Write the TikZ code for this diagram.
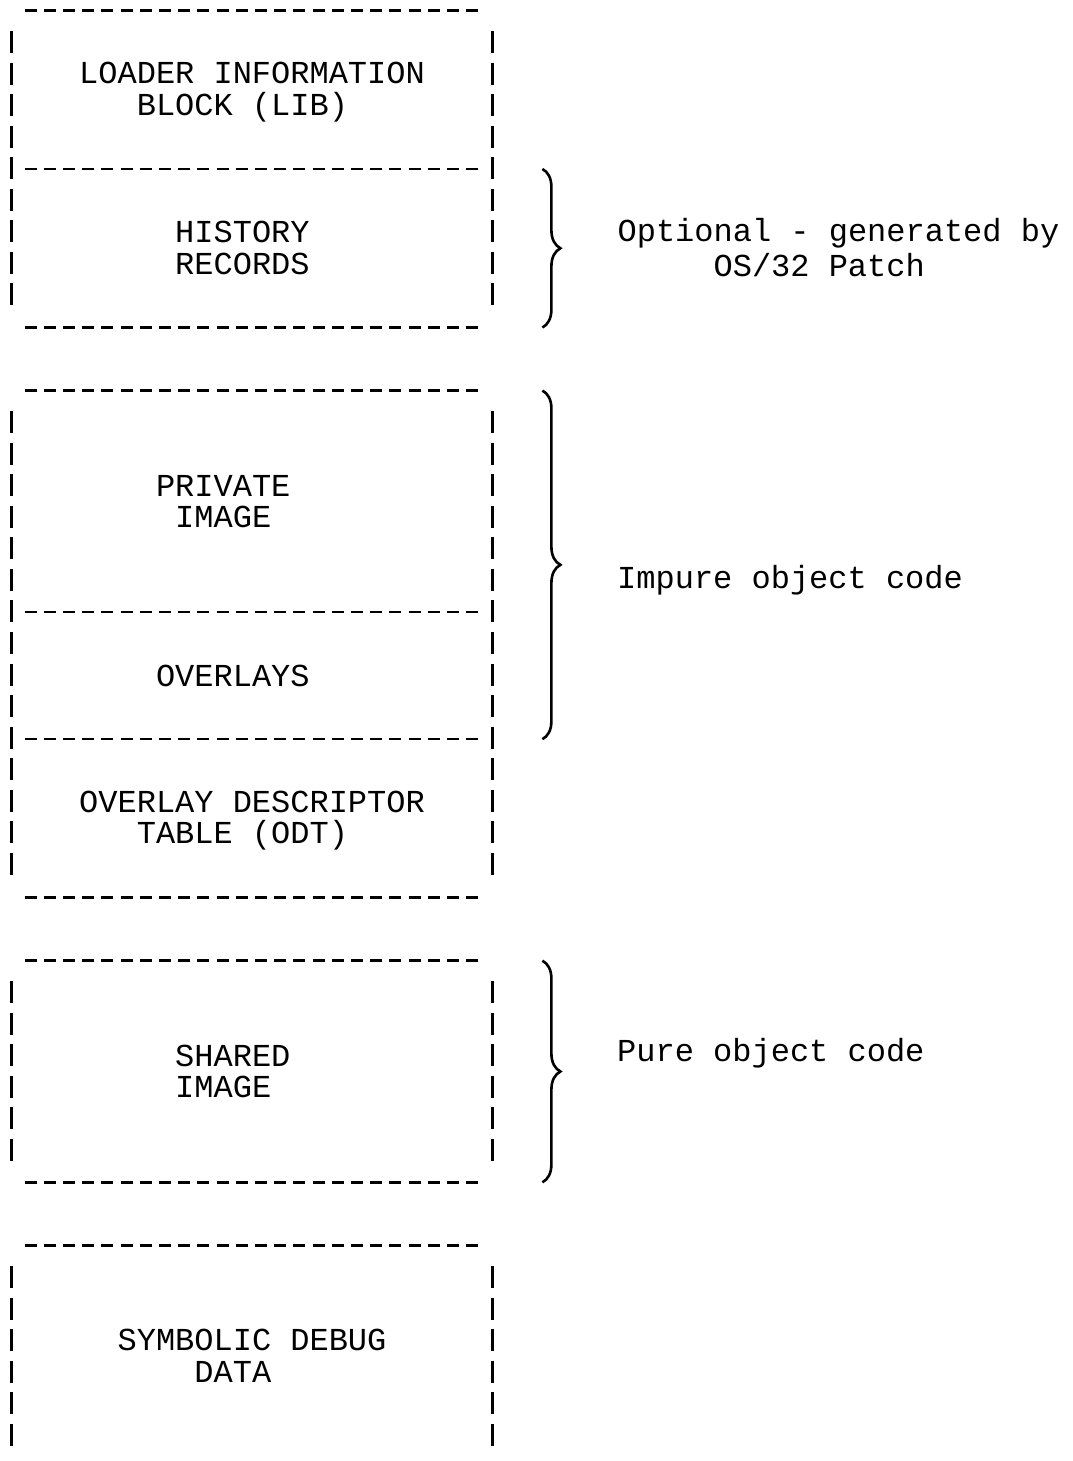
\documentclass[tikz,border=0pt]{standalone}
\usepackage{fontspec}
\setmonofont{Liberation Mono}
\usetikzlibrary{positioning,decorations.pathreplacing}
\newlength{\columna}
\setlength{\columna}{9.6pt}
\newcommand{\renglon}{\rule[-2.6pt]{0pt}{15.7pt}}
\tikzstyle{maquina} = [font=\ttfamily\fontsize{16pt}{15.77pt}\selectfont, text=black]
\tikzstyle{seccion} = [maquina, rectangle, inner ysep=0pt, inner xsep=-4.8pt, text width=249.6pt, align=left, execute at begin node={\spaceskip=\columna\relax\renglon}, execute at end node=\renglon]
\tikzstyle{nota} = [maquina, inner sep=0pt, text width=228pt, align=left, execute at begin node={\spaceskip=\columna\relax\renglon}, execute at end node=\renglon]
\tikzstyle{guiones} = [line width=1.3pt, dash pattern=on 6pt off 3.6pt, shorten <=6.5pt, shorten >=6.5pt]
\tikzstyle{barras} = [line width=1.3pt, dash pattern=on 11pt off 4.77pt, shorten <=10.3pt, shorten >=10.3pt]
\tikzstyle{llave} = [line width=1.3pt, decorate, decoration={brace, amplitude=9pt}]

\begin{document}
\begin{tikzpicture}[x=0.5pt, y=-0.5pt]
	\useasboundingbox[fill=white] (0,0) rectangle (1072,1461);

	\node [seccion, minimum height=78.85pt] (lib) at (252,89.75) {%
		\hspace*{4\columna}LOADER INFORMATION\\
		\hspace*{7\columna}BLOCK (LIB)};
	\node [seccion, minimum height=78.85pt, below=0pt of lib] (hist) {%
		\hspace*{9\columna}HISTORY\\
		\hspace*{9\columna}RECORDS};
	\node [seccion, minimum height=110.39pt, below=31.54pt of hist] (priv) {%
		\hspace*{8\columna}PRIVATE\\
		\hspace*{9\columna}IMAGE};
	\node [seccion, minimum height=63.08pt, below=0pt of priv] (ovl) {%
		\hspace*{8\columna}OVERLAYS};
	\node [seccion, minimum height=78.85pt, below=0pt of ovl] (odt) {%
		\hspace*{4\columna}OVERLAY DESCRIPTOR\\
		\hspace*{7\columna}TABLE (ODT)};
	\node [seccion, minimum height=110.39pt, below=31.54pt of odt] (shared) {%
		\hspace*{9\columna}SHARED\\
		\hspace*{9\columna}IMAGE};
	\node [seccion, minimum height=110.39pt, below=31.54pt of shared] (symb) {%
		\hspace*{6\columna}SYMBOLIC DEBUG\\
		\hspace*{10\columna}DATA};

	\draw [guiones] (lib.north west) -- (lib.north east);
	\draw [guiones] (hist.north west) -- (hist.north east);
	\draw [guiones] (hist.south west) -- (hist.south east);
	\draw [guiones] (priv.north west) -- (priv.north east);
	\draw [guiones] (ovl.north west) -- (ovl.north east);
	\draw [guiones] (odt.north west) -- (odt.north east);
	\draw [guiones] (odt.south west) -- (odt.south east);
	\draw [guiones] (shared.north west) -- (shared.north east);
	\draw [guiones] (shared.south west) -- (shared.south east);
	\draw [guiones] (symb.north west) -- (symb.north east);

	\draw [barras] (lib.north west) -- (hist.south west);
	\draw [barras] (lib.north east) -- (hist.south east);
	\draw [barras] (priv.north west) -- (odt.south west);
	\draw [barras] (priv.north east) -- (odt.south east);
	\draw [barras] (shared.north west) -- (shared.south west);
	\draw [barras] (shared.north east) -- (shared.south east);
	\draw [barras] (symb.north west) -- (symb.south west);
	\draw [barras] (symb.north east) -- (symb.south east);

	\draw [llave] ([xshift=25pt]hist.north east) -- ([xshift=25pt]hist.south east);
	\draw [llave] ([xshift=25pt]priv.north east) -- ([xshift=25pt]ovl.south east);
	\draw [llave] ([xshift=25pt]shared.north east) -- ([xshift=25pt]shared.south east);

	\node [nota, right=62.4pt of hist] (opcional) {%
		Optional - generated by\\
		\hspace*{5\columna}OS/32 Patch};
	\node [nota, anchor=west] (impuro) at (616.8,578.6) {Impure object code};
	\node [nota, anchor=west] (puro) at (616.8,1051.7) {Pure object code};
\end{tikzpicture}
\end{document}
